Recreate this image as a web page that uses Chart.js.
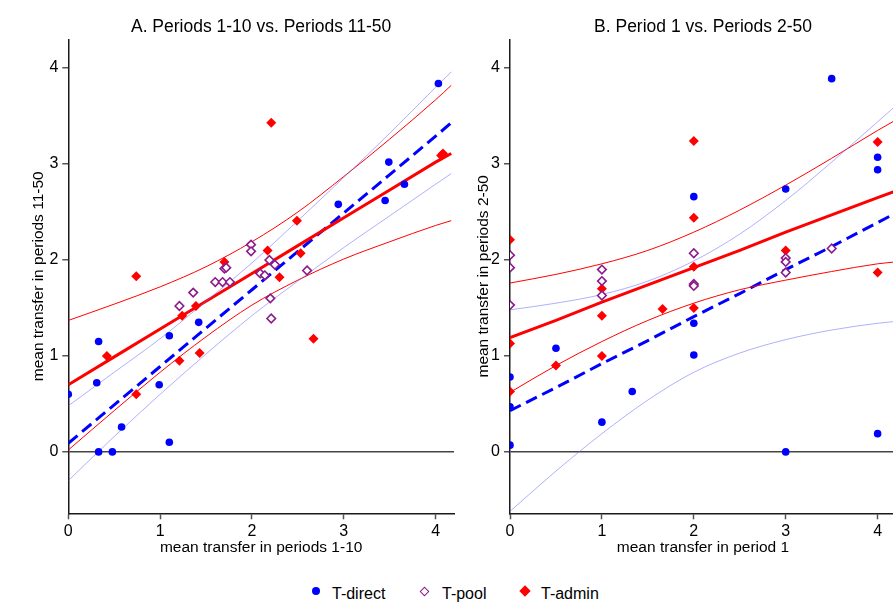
<!DOCTYPE html>
<html>
<head>
<meta charset="utf-8">
<title>Mean transfers</title>
<script src="https://cdn.jsdelivr.net/npm/chart.js@4.4.1/dist/chart.umd.min.js"></script>
<style>
  body { margin: 0; background: #fff; overflow: hidden; }
  #wrap { position: relative; width: 893px; height: 615px; overflow: hidden; font-family: "Liberation Sans", Arial, Helvetica, sans-serif; }
  #chartA { position: absolute; left: 0; top: 0; }
  #chartB { position: absolute; left: 470px; top: 0; }
  .leg { position: absolute; top: 584px; font-size: 16px; line-height: 20px; color: #000; }
  .mk { position: absolute; box-sizing: border-box; }
</style>
</head>
<body>
<div id="wrap">
  <canvas id="chartA" width="470" height="570"></canvas>
  <canvas id="chartB" width="440" height="570"></canvas>

  <div class="mk" style="left:312px; top:587px; width:8px; height:8px; border-radius:50%; background:#0000ff;"></div>
  <div class="leg" style="left:332px;">T-direct</div>
  <div class="mk" style="left:420.5px; top:587.5px; width:7px; height:7px; border:1.6px solid #8b1a8b; transform:rotate(45deg);"></div>
  <div class="leg" style="left:442px;">T-pool</div>
  <div class="mk" style="left:521px; top:587px; width:8px; height:8px; background:#ff0000; transform:rotate(45deg);"></div>
  <div class="leg" style="left:541px;">T-admin</div>
</div>
<script>
  var FONT = '"Liberation Sans", Arial, Helvetica, sans-serif';

  var xTicks = [0, 1, 2, 3, 4];
  var yTicks = [0, 1, 2, 3, 4];

  // Panel A: periods 1-10 (x) vs periods 11-50 (y)
  var aDirectX = [0, 0.33, 0.31, 0.58, 0.33, 0.48, 0.99, 1.10, 1.10, 1.42, 2.94, 3.49, 3.45, 3.66, 4.03];
  var aDirectY = [0.60, 1.15, 0.72, 0.26, 0, 0, 0.70, 0.10, 1.21, 1.35, 2.58, 3.02, 2.62, 2.79, 3.84];
  var aPoolX = [1.21, 1.36, 1.60, 1.68, 1.76, 1.70, 1.72, 1.99, 1.99, 2.19, 2.25, 2.09, 2.14, 2.60, 2.20, 2.21];
  var aPoolY = [1.52, 1.66, 1.77, 1.77, 1.77, 1.91, 1.92, 2.16, 2.09, 2.00, 1.95, 1.86, 1.84, 1.89, 1.60, 1.39];
  var aAdminX = [0.74, 0.42, 0.74, 1.24, 1.39, 1.21, 1.43, 1.70, 2.21, 2.49, 2.17, 2.53, 4.08, 4.06, 2.30, 2.67];
  var aAdminY = [1.83, 1.00, 0.60, 1.42, 1.52, 0.95, 1.03, 1.98, 3.43, 2.41, 2.10, 2.07, 3.11, 3.09, 1.82, 1.18];

  var aLineX = [0, 0.5, 1, 1.5, 2, 2.5, 3, 3.5, 4, 4.17];
  var aAdminFit = [0.70, 0.99, 1.28, 1.57, 1.86, 2.15, 2.44, 2.73, 3.02, 3.11];
  var aAdminHi = [1.37, 1.54, 1.72, 1.93, 2.19, 2.50, 2.87, 3.26, 3.67, 3.82];
  var aAdminLo = [0.02, 0.43, 0.83, 1.20, 1.53, 1.79, 2.01, 2.19, 2.36, 2.41];
  var aDirectFit = [0.09, 0.49, 0.89, 1.29, 1.69, 2.09, 2.49, 2.89, 3.29, 3.43];
  var aDirectHi = [0.48, 0.83, 1.18, 1.57, 1.97, 2.41, 2.86, 3.32, 3.80, 3.96];
  var aDirectLo = [-0.30, 0.16, 0.60, 1.02, 1.42, 1.78, 2.13, 2.46, 2.79, 2.90];

  // Panel B: period 1 (x) vs periods 2-50 (y)
  var bDirectX = [0, 0, 0, 0.5, 1, 1.33, 2, 2, 2, 3, 3, 3.5, 4, 4, 4];
  var bDirectY = [0.78, 0.47, 0.07, 1.08, 0.31, 0.63, 2.66, 1.34, 1.01, 2.74, 0, 3.89, 3.07, 2.94, 0.19];
  var bPoolX = [0, 0, 0, 1, 1, 1, 2, 2, 2, 3, 3, 3, 3.5];
  var bPoolY = [2.05, 1.92, 1.53, 1.90, 1.78, 1.63, 2.07, 1.75, 1.73, 2.02, 1.98, 1.87, 2.12];
  var bAdminX = [0, 0, 0, 0.5, 1, 1, 1, 1.66, 2, 2, 2, 2, 3, 4, 4];
  var bAdminY = [2.21, 1.13, 0.63, 0.90, 1.70, 1.42, 1.00, 1.49, 3.24, 2.44, 1.93, 1.50, 2.10, 3.23, 1.87];

  var bLineX = [0, 0.5, 1, 1.5, 2, 2.5, 3, 3.5, 4, 4.2];
  var bAdminFit = [1.19, 1.37, 1.56, 1.74, 1.92, 2.10, 2.29, 2.47, 2.65, 2.72];
  var bAdminHi = [1.76, 1.85, 1.96, 2.10, 2.29, 2.52, 2.78, 3.06, 3.35, 3.46];
  var bAdminLo = [0.62, 0.90, 1.15, 1.37, 1.55, 1.69, 1.79, 1.88, 1.96, 1.98];
  var bDirectFit = [0.43, 0.67, 0.92, 1.16, 1.41, 1.65, 1.90, 2.14, 2.39, 2.49];
  var bDirectHi = [1.48, 1.55, 1.64, 1.78, 1.99, 2.27, 2.62, 3.02, 3.44, 3.61];
  var bDirectLo = [-0.62, -0.20, 0.19, 0.54, 0.83, 1.03, 1.17, 1.27, 1.34, 1.36];

  function pts(xs, ys) {
    return xs.map(function(x, i) { return { x: x, y: ys[i] }; });
  }

  function lineSet(xs, ys, color, width, dash, curved) {
    return {
      data: pts(xs, ys),
      xAxisID: 'x', yAxisID: 'y',
      showLine: true,
      borderColor: color,
      borderWidth: width,
      borderDash: dash || [],
      pointRadius: 0,
      fill: false,
      cubicInterpolationMode: curved ? 'monotone' : 'default',
      order: 2
    };
  }

  function markSet(xs, ys, style, radius, fillColor, lineColor, width) {
    return {
      data: pts(xs, ys),
      xAxisID: 'x', yAxisID: 'y',
      pointStyle: style,
      pointRadius: radius,
      backgroundColor: fillColor,
      borderColor: lineColor,
      borderWidth: width,
      order: 0
    };
  }

  function makePanel(id, p) {
    var datasets = [
      markSet(p.directX, p.directY, 'circle', 3.8, '#0000ff', '#0000ff', 0),
      markSet(p.poolX, p.poolY, 'rectRot', 4.3, '#ffffff', '#8b1a8b', 1.6),
      markSet(p.adminX, p.adminY, 'rectRot', 5, '#ff0000', '#ff0000', 0),
      lineSet(p.lineX, p.directHi, 'rgba(110,110,255,0.55)', 1, null, true),
      lineSet(p.lineX, p.directLo, 'rgba(110,110,255,0.55)', 1, null, true),
      lineSet(p.lineX, p.adminHi, '#ff0000', 1, null, true),
      lineSet(p.lineX, p.adminLo, '#ff0000', 1, null, true),
      lineSet(p.lineX, p.adminFit, '#ff0000', 3, null, false),
      lineSet(p.lineX, p.directFit, '#0000ff', 3, [12, 6], false)
    ];
    var tickFont = { family: FONT, size: 16 };
    var titleFont = { family: FONT, size: 15.5 };
    return new Chart(document.getElementById(id), {
      type: 'scatter',
      data: { datasets: datasets },
      options: {
        responsive: false,
        animation: false,
        events: [],
        layout: { padding: { left: p.padLeft, right: p.padRight, top: 0, bottom: 0 } },
        plugins: { legend: { display: false }, tooltip: { enabled: false } },
        scales: {
          x: {
            type: 'linear', position: 'bottom', min: 0, max: 4.2,
            afterBuildTicks: function(s) { s.ticks = xTicks.map(function(v) { return { value: v }; }); },
            afterFit: function(s) { s.height = 56.7; },
            border: { color: '#1a1a1a', width: 1.5 },
            grid: { color: 'transparent', tickColor: '#555', tickLength: 6, tickWidth: 1.5 },
            ticks: { color: '#000', font: tickFont, padding: 3, maxRotation: 0 },
            title: { display: true, text: p.xTitle, color: '#000', font: titleFont, padding: { top: 0, bottom: 12.7 } }
          },
          y: {
            type: 'linear', position: 'left', min: -0.64, max: 4.3,
            afterBuildTicks: function(s) { s.ticks = yTicks.map(function(v) { return { value: v }; }); },
            afterFit: function(s) { s.width = p.yWidth; },
            border: { color: '#1a1a1a', width: 1.5 },
            grid: {
              color: function(c) { return c.tick && c.tick.value === 0 ? '#444' : 'transparent'; },
              lineWidth: 1.5, tickColor: '#555', tickLength: 6, tickWidth: 1.5
            },
            ticks: { color: '#000', font: tickFont, padding: 4 },
            title: { display: true, text: p.yTitle, color: '#000', font: titleFont, padding: { top: 0, bottom: 0 } }
          },
          // holds only the panel heading, centred over the plot area
          top: {
            type: 'linear', position: 'top', min: 0, max: 1,
            afterFit: function(s) { s.height = 39.3; },
            border: { display: false },
            grid: { display: false, drawTicks: false },
            ticks: { display: false },
            title: { display: true, text: p.title, color: '#000', font: { family: FONT, size: 17.5 }, padding: { top: 16.5, bottom: 0 } }
          }
        }
      }
    });
  }

  makePanel('chartA', {
    title: 'A. Periods 1-10 vs. Periods 11-50',
    xTitle: 'mean transfer in periods 1-10',
    yTitle: 'mean transfer in periods 11-50',
    padLeft: 29, padRight: 16, yWidth: 39.3,
    directX: aDirectX, directY: aDirectY, poolX: aPoolX, poolY: aPoolY, adminX: aAdminX, adminY: aAdminY,
    lineX: aLineX, adminFit: aAdminFit, adminHi: aAdminHi, adminLo: aAdminLo,
    directFit: aDirectFit, directHi: aDirectHi, directLo: aDirectLo
  });

  makePanel('chartB', {
    title: 'B. Period 1 vs. Periods 2-50',
    xTitle: 'mean transfer in period 1',
    yTitle: 'mean transfer in periods 2-50',
    padLeft: 4, padRight: 14, yWidth: 36,
    directX: bDirectX, directY: bDirectY, poolX: bPoolX, poolY: bPoolY, adminX: bAdminX, adminY: bAdminY,
    lineX: bLineX, adminFit: bAdminFit, adminHi: bAdminHi, adminLo: bAdminLo,
    directFit: bDirectFit, directHi: bDirectHi, directLo: bDirectLo
  });
</script>
</body>
</html>
